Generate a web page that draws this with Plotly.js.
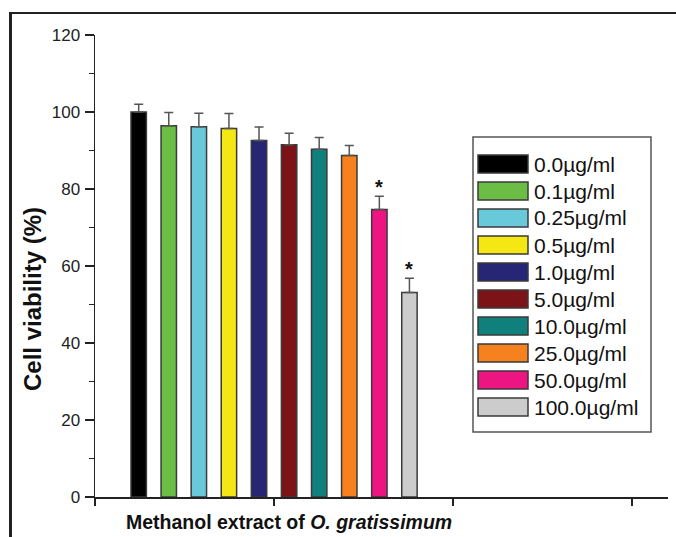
<!DOCTYPE html>
<html>
<head>
<meta charset="utf-8">
<script src="https://cdn.plot.ly/plotly-3.0.1.min.js"></script>
<style>
  html, body { margin: 0; padding: 0; background: #fff; overflow: hidden; }
  #chart { position: absolute; left: 0; top: 0; width: 676px; height: 537px; }
  #frame { position: absolute; left: 9px; top: 12px; width: 700px; height: 600px;
           border-top: 2.5px solid #222; border-left: 3px solid #222; pointer-events: none; }
</style>
</head>
<body>
<div id="chart"></div>
<div id="frame"></div>
<script>
// ---- data ----
const concentrations = ["0.0µg/ml", "0.1µg/ml", "0.25µg/ml", "0.5µg/ml", "1.0µg/ml",
                        "5.0µg/ml", "10.0µg/ml", "25.0µg/ml", "50.0µg/ml", "100.0µg/ml"];
const viability = [100.0, 96.4, 96.2, 95.7, 92.6, 91.5, 90.3, 88.7, 74.7, 53.1];
const viabilitySD = [2.0, 3.5, 3.5, 3.9, 3.5, 3.0, 3.1, 2.6, 3.4, 3.7];
const significant = [false, false, false, false, false, false, false, false, true, true];
const groupLabel = "Methanol extract of <i>O. gratissimum</i>";
const yTicks = [0, 20, 40, 60, 80, 100, 120];

// ---- styles ----
const colors = ["#000000", "#6cbd45", "#68c9da", "#f4e714", "#262674", "#7c1417",
                "#0f807c", "#f5821f", "#ec1581", "#cccccc"];

// ---- layout geometry (pixels) ----
const W = 676, H = 537;
const M = { l: 95, r: 8, t: 35, b: 40 };
const plotW = W - M.l - M.r, plotH = H - M.t - M.b;
const px2x = p => (p - M.l) / plotW;
const px2y = p => (H - M.b - p) / plotH;

const groupCenter = 1, slot = 0.168, barW = 0.086;

const traces = concentrations.map((name, i) => ({
  type: "bar",
  name: name,
  x: [groupCenter + (i - (concentrations.length - 1) / 2) * slot],
  y: [viability[i]],
  width: [barW],
  marker: { color: colors[i], line: { color: "#3a3a3a", width: 1.5 } },
  error_y: { type: "data", array: [viabilitySD[i]], arrayminus: [0], symmetric: false,
             color: "#555", thickness: 1.5, width: 4.5 },
  showlegend: false,
  hoverinfo: "y"
}));

const annotations = [];
const shapes = [];

// significance stars
concentrations.forEach((n, i) => {
  if (significant[i]) {
    annotations.push({
      x: groupCenter + (i - (concentrations.length - 1) / 2) * slot,
      y: viability[i] + viabilitySD[i], xref: "x", yref: "y",
      text: "<b>*</b>", showarrow: false, yanchor: "bottom", yshift: -4,
      font: { family: "Liberation Sans, Arial, sans-serif", size: 20, color: "#111" }
    });
  }
});

// axis titles
annotations.push({
  x: px2x(289), y: px2y(522), xref: "paper", yref: "paper", showarrow: false,
  text: "<b>" + groupLabel + "</b>", xanchor: "center", yanchor: "middle",
  font: { family: "Liberation Sans, Arial, sans-serif", size: 19.5, color: "#111" }
});
annotations.push({
  x: px2x(32), y: px2y(299), xref: "paper", yref: "paper", showarrow: false,
  text: "<b>Cell viability (%)</b>", textangle: -90, xanchor: "center", yanchor: "middle",
  font: { family: "Liberation Sans, Arial, sans-serif", size: 24, color: "#111" }
});

// legend (drawn from the same arrays)
const lg = { x0: 473, y0: 137, x1: 651, y1: 432, row0: 164, rowStep: 27 };
shapes.push({ type: "rect", xref: "paper", yref: "paper",
  x0: px2x(lg.x0), x1: px2x(lg.x1), y0: px2y(lg.y1), y1: px2y(lg.y0),
  line: { color: "#555", width: 1.5 }, fillcolor: "rgba(0,0,0,0)" });
concentrations.forEach((name, i) => {
  const cy = lg.row0 + i * lg.rowStep;
  shapes.push({ type: "rect", xref: "paper", yref: "paper",
    x0: px2x(478), x1: px2x(528), y0: px2y(cy + 9), y1: px2y(cy - 9),
    line: { color: "#3a3a3a", width: 1.5 }, fillcolor: colors[i] });
  annotations.push({ x: px2x(532), y: px2y(cy), xref: "paper", yref: "paper",
    text: name, showarrow: false, xanchor: "left", yanchor: "middle",
    font: { family: "Liberation Sans, Arial, sans-serif", size: 21, color: "#111" } });
});

const layout = {
  width: W, height: H,
  margin: M,
  paper_bgcolor: "#fff", plot_bgcolor: "#fff",
  barmode: "overlay",
  showlegend: false,
  font: { family: "Liberation Sans, Arial, sans-serif", color: "#222" },
  xaxis: {
    range: [0, 3.2], tickmode: "array", tickvals: [0, 1, 2, 3], ticktext: ["", "", "", ""],
    ticks: "outside", ticklen: 7, tickwidth: 1.5, tickcolor: "#222",
    showline: true, linecolor: "#222", linewidth: 1.5, showgrid: false, zeroline: false,
    fixedrange: true
  },
  yaxis: {
    range: [0, 120], tickmode: "array", tickvals: yTicks,
    ticks: "outside", ticklen: 9, tickwidth: 1.5, tickcolor: "#222",
    minor: { dtick: 10, ticks: "outside", ticklen: 5, tickwidth: 1.5, tickcolor: "#222", showgrid: false },
    showline: true, linecolor: "#222", linewidth: 1.5, showgrid: false, zeroline: false,
    tickfont: { size: 17, color: "#222" }, ticklabelstandoff: 1,
    fixedrange: true
  },
  annotations: annotations,
  shapes: shapes
};

Plotly.newPlot("chart", traces, layout, { displayModeBar: false, staticPlot: true });
</script>
</body>
</html>
